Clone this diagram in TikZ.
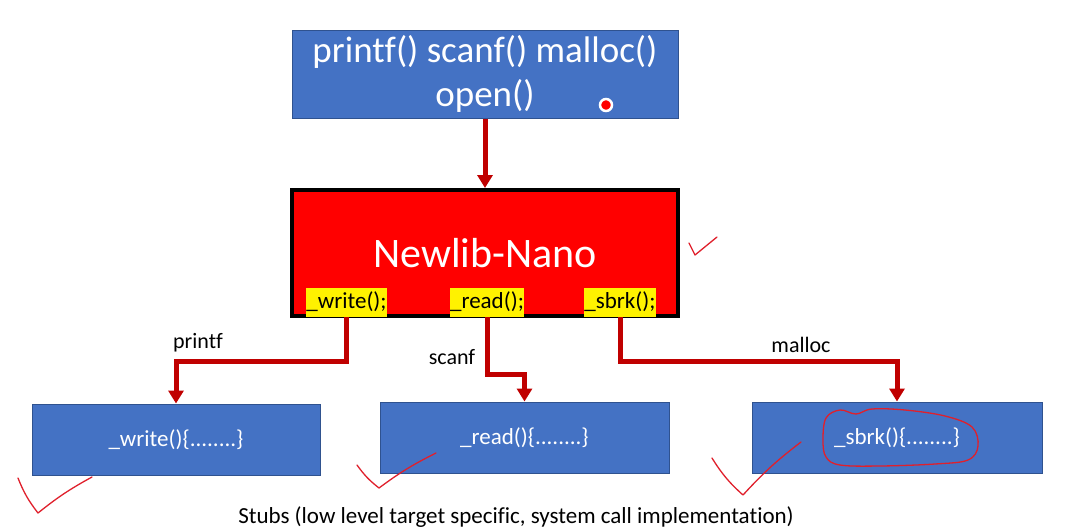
\documentclass[tikz,border=0pt]{standalone}
\usepackage{fontspec}
\setmainfont[Ligatures=NoCommon]{Carlito}
\usetikzlibrary{arrows.meta}
\definecolor{offblue}{HTML}{4472C4}
\definecolor{offedge}{HTML}{2F528F}
\definecolor{darkred}{HTML}{C00000}
\definecolor{inkred}{HTML}{E0202C}
\newcommand{\fsz}[1]{\fontsize{#1}{#1}\selectfont}

\begin{document}
\begin{tikzpicture}[x=1pt,y=-1pt,inner sep=0pt,
  bluebox/.style={draw=offedge,line width=1pt,fill=offblue,text=white},
  callbox/.style={fill=yellow,text=black,minimum height=29pt,font=\fsz{23},text height=17pt,text depth=6pt},
  flow/.style={darkred,line width=5pt,-{Triangle[length=13pt,width=15pt]}},
  ink/.style={inkred,line width=1.3pt,line cap=round,line join=round},
  lbl/.style={font=\fsz{22},text=black}]
  \useasboundingbox[fill=white](0,0)rectangle(1074,531);

  % library calls
  \node[bluebox,minimum width=386pt,minimum height=88pt,align=center,font=\fontsize{37}{44}\selectfont] (calls) at (485,74) {printf() scanf() malloc()\\open()};
  \fill[red,draw=white,line width=2.5pt](606,105)circle(6);

  % newlib nano
  \node[draw=black,line width=4pt,fill=red,text=white,minimum width=386pt,minimum height=126pt,font=\fsz{42}] (newlib) at (485,253) {Newlib-Nano};
  \node[callbox] (wr) at (346.5,302.5) {\_write();};
  \node[callbox] (rd) at (487,302.5) {\_read();};
  \node[callbox] (sb) at (620,302.5) {\_sbrk();};

  % stubs
  \node[bluebox,minimum width=288pt,minimum height=71pt,font=\fsz{23}] (stubwr) at (176,439.5) {\_write()\{........\}};
  \node[bluebox,minimum width=289pt,minimum height=71pt,font=\fsz{23}] (stubrd) at (524.5,437.5) {\_read()\{........\}};
  \node[bluebox,minimum width=290pt,minimum height=71pt,font=\fsz{23}] (stubsb) at (897,437.5) {\_sbrk()\{........\}};

  \draw[flow](calls.south)--(newlib.north);
  \draw[flow](wr.south)--++(0,44)-|(stubwr.north);
  \draw[flow](rd.south)--++(0,57)-|(stubrd.north);
  \draw[flow](sb.south)--++(0,44)-|(stubsb.north);

  \node[lbl] (lprintf) at (198,343) {printf};
  \node[lbl] (lscanf) at (452,357) {scanf};
  \node[lbl] (lmalloc) at (801,345) {malloc};

  \node[font=\fsz{23},anchor=base] (stubs) at (516,523) {Stubs (low level target specific, system call implementation)};

  % hand marks
  \draw[ink](689,243)--(695,255)--(717,237);
  \draw[ink](18,478)to[bend right=8](38,513)to[bend left=5](92,477);
  \draw[ink](357,465)to[bend right=8](379,488)to[bend left=5](436,453);
  \draw[ink](712,458)to[bend right=8](743,495)to[bend left=5](801,442);
  \draw[ink]plot[smooth cycle,tension=0.6]coordinates{(823,440)(826,418)(840,410)(856,414)(872,409)(905,410)(945,416)(972,427)(978,446)(968,460)(935,464)(880,466)(840,465)(826,457)};
\end{tikzpicture}
\end{document}
